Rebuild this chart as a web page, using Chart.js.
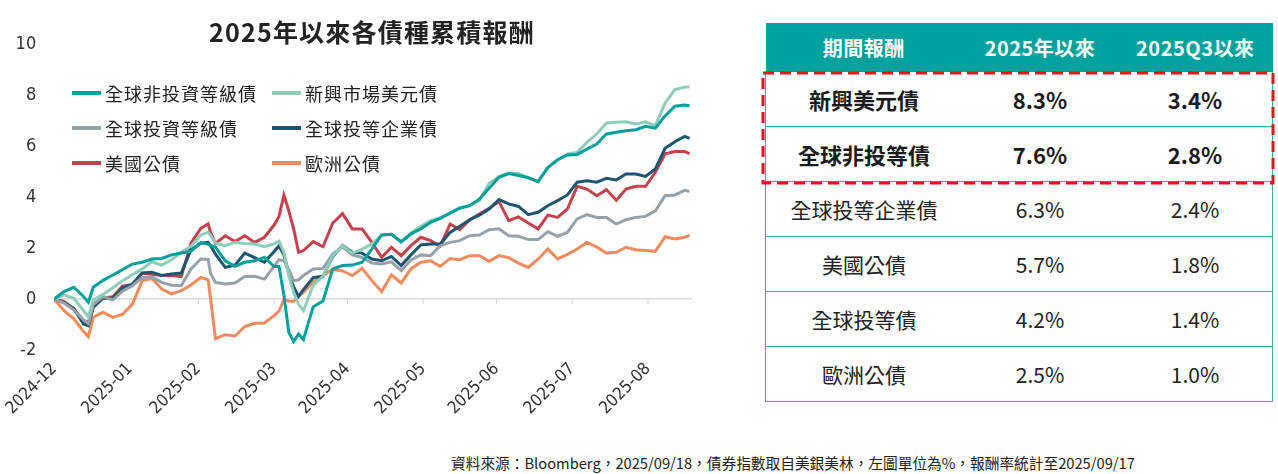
<!DOCTYPE html>
<html>
<head>
<meta charset="utf-8">
<script src="https://cdn.jsdelivr.net/npm/chart.js@4.4.1/dist/chart.umd.min.js"></script>
<style>
  body { margin: 0; background: #fff; width: 1278px; height: 474px; position: relative; overflow: hidden; font-family: "Noto Sans CJK TC", "Noto Sans", sans-serif; }
  #chartBox { position: absolute; left: 0; top: 0; width: 720px; height: 440px; }
  #title { position: absolute; left: 0; top: 13px; width: 744px; text-align: center; font-size: 25px; font-weight: bold; color: #222; letter-spacing: 1.2px; }
  #legend { position: absolute; left: 72px; top: 75px; display: grid; grid-template-columns: 200px 200px; grid-auto-rows: 35px; }
  .lg-item { display: flex; align-items: center; font-size: 18px; letter-spacing: 1px; color: #222; }
  .lg-line { width: 29px; height: 4px; margin-right: 4px; }
  #tbl { position: absolute; left: 765px; top: 23px; width: 508px; border-collapse: collapse; }
  #tbl th { background: #00A29D; color: #fff; font-size: 20px; font-weight: bold; height: 49px; padding: 0; letter-spacing: 0.5px; }
  #tbl td { height: 54px; padding: 0; text-align: center; font-size: 21px; color: #222; border-bottom: 1.5px solid #3AAEA9; }
  #tbl tr td:first-child { border-left: 1.5px solid #3AAEA9; }
  #tbl tr td:last-child { border-right: 1.5px solid #3AAEA9; }
  #tbl tr.hl td { font-weight: bold; font-size: 22px; color: #1a1a1a; }
  #box { position: absolute; left: 761px; top: 71px; }
  #note { position: absolute; left: 451px; top: 452px; font-size: 14.7px; color: #222; white-space: nowrap; }
</style>
</head>
<body>
<div id="chartBox"><canvas id="chart" width="720" height="440"></canvas></div>
<div id="title">2025年以來各債種累積報酬</div>
<div id="legend"></div>
<table id="tbl"></table>
<svg id="box" width="514" height="114"><rect x="2" y="2" width="510" height="110" fill="none" stroke="#E3161C" stroke-width="3" stroke-dasharray="11 6"/></svg>
<div id="note">資料來源：Bloomberg，2025/09/18，債券指數取自美銀美林，左圖單位為%，報酬率統計至2025/09/17</div>
<script>
// 自 2024-12-31 起算的天數
const days = [0, 4, 8, 12, 14, 16, 20, 24, 28, 32, 36, 40, 44, 48, 52, 56, 60, 63, 64, 66,
  70, 74, 78, 82, 86, 90, 92, 94, 96, 98, 100, 102, 106, 110, 114, 118, 122, 126, 130, 134,
  138, 142, 146, 150, 154, 158, 162, 166, 170, 174, 178, 182, 186, 190, 194, 198, 202, 206, 210, 214,
  218, 222, 226, 230, 234, 238, 242, 246, 250, 254, 258, 260];

// 累積報酬 (%)
const hyGlobal = [0, 0.29, 0.46, 0.10, -0.13, 0.46, 0.73, 0.94, 1.15, 1.37, 1.44, 1.57, 1.59, 1.73, 1.80, 1.87, 2.22, 2.15, 2.10, 2.03,
  1.50, 1.28, 1.44, 1.50, 1.63, 1.27, 1.27, 0.16, -1.31, -1.67, -1.37, -1.59, -0.30, -0.08, 1.18, 1.31, 1.33, 1.44, 1.96, 2.51,
  2.54, 2.25, 2.55, 2.75, 3.01, 3.16, 3.37, 3.56, 3.66, 3.92, 4.34, 4.77, 4.92, 4.84, 4.76, 4.60, 5.16, 5.46, 5.65, 5.67,
  5.88, 6.08, 6.47, 6.54, 6.60, 6.64, 6.77, 6.70, 7.18, 7.56, 7.61, 7.58];
const emUsd = [0, 0.16, 0.03, -0.45, -0.70, -0.03, 0.18, 0.44, 0.72, 0.95, 1.18, 1.46, 1.33, 1.54, 1.83, 2.07, 2.51, 2.62, 2.50, 2.20,
  2.09, 2.22, 2.18, 2.16, 2.05, 2.16, 2.27, 1.83, 0.92, 0.26, -0.21, -0.46, 0.55, 0.89, 1.70, 2.09, 1.80, 1.96, 2.16, 2.50,
  2.54, 2.22, 2.59, 2.85, 3.07, 3.19, 3.37, 3.58, 3.66, 3.86, 4.54, 4.80, 4.94, 4.92, 4.76, 4.60, 5.14, 5.45, 5.69, 5.75,
  6.14, 6.47, 6.90, 6.93, 6.95, 6.86, 6.95, 6.80, 7.69, 8.21, 8.30, 8.32];
const igGlobal = [0, -0.16, -0.43, -0.82, -0.97, -0.22, 0.10, -0.04, 0.31, 0.52, 0.84, 0.86, 0.65, 0.54, 0.52, 1.18, 1.57, 1.55, 1.00, 0.65,
  0.59, 0.63, 0.88, 0.89, 0.78, 1.28, 1.54, 1.50, 1.15, 0.72, 0.75, 0.92, 1.18, 1.20, 1.76, 2.05, 1.73, 1.63, 1.41, 1.37,
  1.46, 1.11, 1.53, 1.73, 1.70, 2.09, 2.22, 2.29, 2.48, 2.51, 2.72, 2.75, 2.48, 2.46, 2.33, 2.33, 2.64, 2.46, 2.61, 3.14,
  3.31, 3.20, 3.20, 2.94, 3.11, 3.20, 3.24, 3.46, 4.05, 4.08, 4.26, 4.22];
const igCorp = [0, -0.14, -0.37, -0.98, -1.05, -0.33, 0.03, 0.03, 0.43, 0.59, 1.02, 1.05, 0.92, 0.98, 1.02, 1.93, 2.19, 2.22, 2.09, 1.76,
  1.24, 1.33, 1.80, 1.62, 1.44, 1.86, 2.09, 1.73, 1.00, 0.47, 0.10, 0.37, 0.84, 0.89, 1.67, 2.10, 1.83, 1.80, 1.57, 1.50,
  1.67, 1.31, 1.73, 2.12, 2.16, 2.16, 2.61, 2.85, 3.11, 3.29, 3.53, 3.90, 3.73, 3.63, 3.31, 3.40, 3.66, 3.86, 4.08, 4.58,
  4.64, 4.58, 4.73, 4.67, 4.90, 4.90, 4.81, 5.10, 5.91, 6.17, 6.38, 6.30];
const ust = [0, -0.09, -0.39, -0.84, -0.92, -0.20, 0.04, 0.09, 0.51, 0.54, 1.01, 0.97, 0.92, 0.92, 0.88, 2.20, 2.77, 2.95, 2.61, 2.18,
  2.48, 2.25, 2.48, 2.22, 2.42, 2.90, 3.24, 4.08, 3.46, 2.75, 1.83, 1.90, 2.25, 2.05, 2.98, 3.35, 2.75, 2.75, 2.22, 1.63,
  2.03, 1.70, 2.09, 2.42, 2.29, 2.07, 2.94, 2.72, 3.10, 3.33, 3.56, 3.82, 3.07, 3.22, 2.98, 2.75, 3.29, 3.20, 3.53, 4.42,
  4.31, 4.05, 4.29, 3.87, 4.31, 4.42, 4.42, 4.97, 5.69, 5.78, 5.78, 5.70];
const euGov = [0, -0.46, -0.77, -1.28, -1.48, -0.72, -0.52, -0.72, -0.60, -0.20, 0.71, 0.80, 0.39, 0.20, 0.33, 0.55, 0.85, 0.75, 0.00, -1.55,
  -1.40, -1.45, -1.08, -0.95, -0.94, -0.65, -0.47, -0.03, -0.08, -0.10, 0.10, 0.26, 0.68, 0.92, 1.16, 1.10, 0.92, 1.20, 0.72, 0.29,
  0.95, 0.63, 1.18, 1.44, 1.50, 1.28, 1.59, 1.54, 1.70, 1.70, 1.48, 1.70, 1.62, 1.41, 1.24, 1.56, 1.96, 1.57, 1.75, 1.96,
  2.22, 2.04, 1.80, 1.83, 2.03, 1.93, 1.90, 1.87, 2.44, 2.35, 2.42, 2.50];

const seriesNames = ["全球非投資等級債", "新興市場美元債", "全球投資等級債", "全球投等企業債", "美國公債", "歐洲公債"];
const seriesData = [hyGlobal, emUsd, igGlobal, igCorp, ust, euGov];
const seriesColors = ["#00A19B", "#8DCEBA", "#96A1A9", "#1C5571", "#C8404B", "#F28A5B"];

// X 軸刻度：各月月底
const tickDays = [0, 31, 59, 90, 120, 151, 181, 212, 243];
const tickLabels = ["2024-12", "2025-01", "2025-02", "2025-03", "2025-04", "2025-05", "2025-06", "2025-07", "2025-08"];
const yTicks = [-2, 0, 2, 4, 6, 8, 10];

// 右側表格
const tableHead = ["期間報酬", "2025年以來", "2025Q3以來"];
const tableNames = ["新興美元債", "全球非投等債", "全球投等企業債", "美國公債", "全球投等債", "歐洲公債"];
const ytdReturn = ["8.3%", "7.6%", "6.3%", "5.7%", "4.2%", "2.5%"];
const q3Return = ["3.4%", "2.8%", "2.4%", "1.8%", "1.4%", "1.0%"];
const highlightRows = 2;

const tickFont = "'Liberation Sans Narrow', 'DejaVu Sans Condensed', 'Noto Sans', sans-serif";

// 零軸上的刻度線
const zeroTicks = {
  id: "zeroTicks",
  beforeDatasetsDraw(chart) {
    const { ctx, scales } = chart;
    const y0 = scales.y.getPixelForValue(0);
    ctx.save();
    ctx.strokeStyle = "#d9d9d9";
    ctx.lineWidth = 1.2;
    tickDays.forEach((d) => {
      const px = scales.x.getPixelForValue(d);
      ctx.beginPath();
      ctx.moveTo(px, y0);
      ctx.lineTo(px, y0 + 5);
      ctx.stroke();
    });
    ctx.restore();
  },
};

const chart = new Chart(document.getElementById("chart").getContext("2d"), {
  type: "line",
  data: {
    datasets: seriesData.map((s, i) => ({
      label: seriesNames[i],
      data: days.map((d, j) => ({ x: d, y: s[j] })),
      borderColor: seriesColors[i],
      borderWidth: 3,
      pointRadius: 0,
      tension: 0,
      fill: false,
    })),
  },
  options: {
    responsive: false,
    animation: false,
    layout: { padding: { top: 44, right: 28, left: 0, bottom: 0 } },
    plugins: { legend: { display: false }, tooltip: { enabled: false } },
    scales: {
      x: {
        type: "linear",
        min: 0,
        max: 261,
        afterBuildTicks(scale) {
          scale.ticks = tickDays.map((v) => ({ value: v }));
        },
        afterFit(scale) {
          scale.height = 90;
        },
        ticks: {
          autoSkip: false,
          maxRotation: 45,
          minRotation: 45,
          padding: 9,
          color: "#333",
          font: { family: tickFont, size: 17 },
          callback: (v) => tickLabels[tickDays.indexOf(v)],
        },
        grid: { display: false, drawTicks: false },
        border: { display: false },
      },
      y: {
        min: -2,
        max: 10,
        afterBuildTicks(scale) {
          scale.ticks = yTicks.map((v) => ({ value: v }));
        },
        afterFit(scale) {
          scale.width = 50;
        },
        ticks: {
          padding: 18,
          color: "#333",
          font: { family: tickFont, size: 18 },
        },
        grid: {
          drawTicks: false,
          lineWidth: 1.5,
          color: (c) => (c.tick && c.tick.value === 0 ? "#d9d9d9" : "rgba(0,0,0,0)"),
        },
        border: { display: false },
      },
    },
  },
  plugins: [zeroTicks],
});

// 圖例
const legend = document.getElementById("legend");
chart.data.datasets.forEach((ds) => {
  legend.innerHTML += `<div class="lg-item"><span class="lg-line" style="background:${ds.borderColor}"></span>${ds.label}</div>`;
});

// 表格
const tbl = document.getElementById("tbl");
let html = "<tr>" + tableHead.map((h) => `<th>${h}</th>`).join("") + "</tr>";
tableNames.forEach((name, i) => {
  html += `<tr class="${i < highlightRows ? "hl" : ""}"><td style="width:196px">${name}</td><td style="width:156px">${ytdReturn[i]}</td><td>${q3Return[i]}</td></tr>`;
});
tbl.innerHTML = html;
</script>
</body>
</html>
